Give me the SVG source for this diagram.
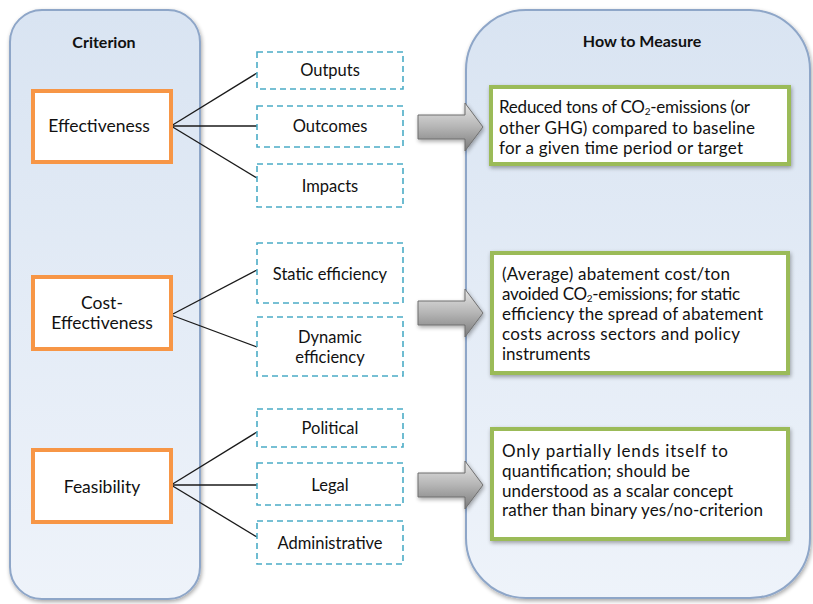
<svg xmlns="http://www.w3.org/2000/svg" width="813" height="604" viewBox="0 0 813 604">
  <defs>
    <linearGradient id="panelGrad" x1="0" y1="0" x2="0" y2="1">
      <stop offset="0" stop-color="#d9e4f2"/>
      <stop offset="1" stop-color="#eef3fa"/>
    </linearGradient>
    <linearGradient id="arrowGrad" x1="0" y1="0" x2="0" y2="1">
      <stop offset="0" stop-color="#e6e6e6"/>
      <stop offset="0.5" stop-color="#b5b5b5"/>
      <stop offset="1" stop-color="#7a7a7a"/>
    </linearGradient>
    <filter id="shadow" x="-10%" y="-10%" width="130%" height="130%">
      <feGaussianBlur in="SourceAlpha" stdDeviation="2"/>
      <feOffset dx="1" dy="2" result="b"/>
      <feComponentTransfer><feFuncA type="linear" slope="0.35"/></feComponentTransfer>
      <feMerge><feMergeNode/><feMergeNode in="SourceGraphic"/></feMerge>
    </filter>
    <path id="arrowShape" d="M418,-12 H465 V-24 L483,0 L465,24 V12 H418 Z"/>
  </defs>
  <style>
    .panel { fill: url(#panelGrad); stroke: #8ea6c8; stroke-width: 2; }
    .crit { fill: #ffffff; stroke: #f79646; stroke-width: 4; }
    .sub { fill: #ffffff; stroke: #4bacc6; stroke-width: 1.6; stroke-dasharray: 6 4; }
    .meas { fill: #ffffff; stroke: #9bbb59; stroke-width: 4; }
    .arrow { fill: url(#arrowGrad); stroke: #6f6f6f; stroke-width: 1; }
    .conn { stroke: #1a1a1a; stroke-width: 1.3; fill: none; }
    text { font-family: Lato, "Liberation Sans", Arial, sans-serif; fill: #111111; }
    .hdr { font-size: 16px; font-weight: bold; text-anchor: middle; }
    .lbl { font-size: 16.5px; text-anchor: middle; }
    .big { font-size: 17.5px; }
    .txt { font-size: 17px; }
    .sb { font-size: 10px; }
  </style>

  <g id="panel-criterion">
    <rect class="panel" x="10" y="10" width="190" height="589" rx="32" ry="32" filter="url(#shadow)"/>
    <text class="hdr" x="104" y="48">Criterion</text>
  </g>
  <g id="panel-measure">
    <rect class="panel" x="466" y="10" width="344" height="588" rx="60" ry="60" filter="url(#shadow)"/>
    <text class="hdr" x="642" y="47">How to Measure</text>
  </g>

  <g id="connectors">
    <line class="conn" x1="171" y1="126" x2="257" y2="73"/>
    <line class="conn" x1="171" y1="126" x2="257" y2="126"/>
    <line class="conn" x1="171" y1="126" x2="257" y2="178"/>
    <line class="conn" x1="171" y1="315" x2="257" y2="270"/>
    <line class="conn" x1="171" y1="315" x2="257" y2="347"/>
    <line class="conn" x1="171" y1="485" x2="257" y2="432"/>
    <line class="conn" x1="171" y1="485" x2="257" y2="485"/>
    <line class="conn" x1="171" y1="485" x2="257" y2="537"/>
    <use href="#arrowShape" class="arrow" transform="translate(0,127)" filter="url(#shadow)"/>
    <use href="#arrowShape" class="arrow" transform="translate(0,313)" filter="url(#shadow)"/>
    <use href="#arrowShape" class="arrow" transform="translate(0,485)" filter="url(#shadow)"/>
  </g>

  <g id="node-effectiveness">
    <rect class="crit" x="33" y="91" width="138" height="71"/>
    <text class="lbl big" x="99" y="132">Effectiveness</text>
  </g>
  <g id="node-cost-effectiveness">
    <rect class="crit" x="33" y="277" width="138" height="72"/>
    <text class="lbl big" x="102" y="309">Cost-</text>
    <text class="lbl big" x="102" y="329">Effectiveness</text>
  </g>
  <g id="node-feasibility">
    <rect class="crit" x="33" y="450" width="138" height="72"/>
    <text class="lbl big" x="102" y="493">Feasibility</text>
  </g>

  <g id="node-outputs">
    <rect class="sub" x="257" y="52" width="146" height="37"/>
    <text class="lbl" x="330" y="76">Outputs</text>
  </g>
  <g id="node-outcomes">
    <rect class="sub" x="257" y="106" width="146" height="41"/>
    <text class="lbl" x="330" y="132">Outcomes</text>
  </g>
  <g id="node-impacts">
    <rect class="sub" x="257" y="164" width="146" height="43"/>
    <text class="lbl" x="330" y="192">Impacts</text>
  </g>
  <g id="node-static">
    <rect class="sub" x="257" y="243" width="146" height="60"/>
    <text class="lbl" x="330" y="280">Static efficiency</text>
  </g>
  <g id="node-dynamic">
    <rect class="sub" x="257" y="317" width="146" height="59"/>
    <text class="lbl" x="330" y="343">Dynamic</text>
    <text class="lbl" x="330" y="363">efficiency</text>
  </g>
  <g id="node-political">
    <rect class="sub" x="257" y="409" width="146" height="38"/>
    <text class="lbl" x="330" y="434">Political</text>
  </g>
  <g id="node-legal">
    <rect class="sub" x="257" y="463" width="146" height="42"/>
    <text class="lbl" x="330" y="491">Legal</text>
  </g>
  <g id="node-administrative">
    <rect class="sub" x="257" y="521" width="146" height="43"/>
    <text class="lbl" x="330" y="549">Administrative</text>
  </g>

  <g id="measure-effectiveness">
    <rect class="meas" x="491" y="87" width="298" height="77" filter="url(#shadow)"/>
    <text class="txt" x="499" y="113" textLength="251" lengthAdjust="spacing">Reduced tons of CO<tspan class="sb" dy="2">2</tspan><tspan dy="-2">-emissions (or</tspan></text>
    <text class="txt" x="499" y="134" textLength="256" lengthAdjust="spacing">other GHG) compared to baseline</text>
    <text class="txt" x="499" y="154" textLength="244" lengthAdjust="spacing">for a given time period or target</text>
  </g>
  <g id="measure-cost">
    <rect class="meas" x="492" y="253" width="296" height="120" filter="url(#shadow)"/>
    <text class="txt" x="502" y="280" textLength="228" lengthAdjust="spacing">(Average) abatement cost/ton</text>
    <text class="txt" x="502" y="300" textLength="238" lengthAdjust="spacing">avoided CO<tspan class="sb" dy="2">2</tspan><tspan dy="-2">-emissions; for static</tspan></text>
    <text class="txt" x="502" y="320" textLength="261" lengthAdjust="spacing">efficiency the spread of abatement</text>
    <text class="txt" x="502" y="340" textLength="238" lengthAdjust="spacing">costs across sectors and policy</text>
    <text class="txt" x="502" y="360">instruments</text>
  </g>
  <g id="measure-feasibility">
    <rect class="meas" x="492" y="429" width="296" height="110" filter="url(#shadow)"/>
    <text class="txt" x="502" y="457" textLength="226" lengthAdjust="spacing">Only partially lends itself to</text>
    <text class="txt" x="502" y="477" textLength="188" lengthAdjust="spacing">quantification; should be</text>
    <text class="txt" x="502" y="497" textLength="231" lengthAdjust="spacing">understood as a scalar concept</text>
    <text class="txt" x="502" y="516" textLength="261" lengthAdjust="spacing">rather than binary yes/no-criterion</text>
  </g>
</svg>
